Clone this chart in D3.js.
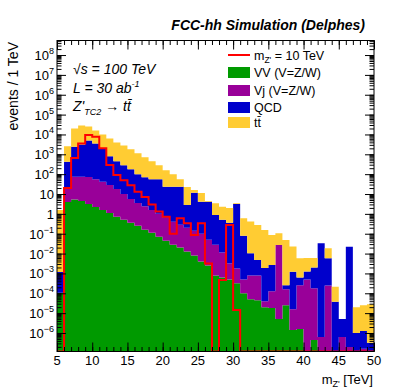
<!DOCTYPE html>
<html>
<head>
<meta charset="utf-8">
<script src="https://cdn.jsdelivr.net/npm/d3@7"></script>
<style>
body { margin: 0; background: #fff; }
text { font-family: "Liberation Sans", Arial, sans-serif; }
</style>
</head>
<body>
<svg id="chart" width="407" height="391"></svg>
<script>
// lower edge of each 1 TeV bin
const binLow = [5,6,7,8,9,10,11,12,13,14,15,16,17,18,19,20,21,22,23,24,25,26,27,28,29,
    30,31,32,33,34,35,36,37,38,39,40,41,42,43,44,45,46,47,48,49]

// backgrounds, events per bin
const vv = [1.05e-4,3.98,5.25,4.47,3.16,2.24,1.58,1.12,0.708,0.501,0.355,0.251,0.158,0.112,0.0708,
    0.0447,0.0282,0.02,0.0126,0.0079,0.004,0.0025,7.9e-4,6.3e-4,5.0e-4,3.16e-4,1.0e-4,5.0e-5,4.5e-5,2.0e-5,
    1.8e-5,5.0e-6,2.5e-5,1.4e-6,1.6e-6,0,4.5e-7,0,0,0,0,0,0,0,0]
const vj = [0,16,69,70,68,54,40,27.7,17.1,9.5,5.27,3.3,2.24,1.47,0.93,
    0.586,0.37,0.262,0.187,0.133,0.096,0.0476,0.0274,0.0106,0.00266,0.00146,4.0e-4,7.4e-4,7.5e-4,2.0e-5,
    1.08e-4,0.0269,1.33e-4,1.44e-5,2.5e-4,5.0e-4,1.77e-4,6.3e-7,2.5e-4,0,6.3e-7,2e-7,0,1.6e-7,0]
const qcd = [1.07e-3,407,2325,3088,4941,3492,1953,765,429,272,172,96.5,68.4,54.6,54,
    22.8,23.0,23.1,2.62,11.6,3.97,4.02,0.843,0.49,0.352,3.16,0.0789,0.0097,0.0040,0.00182,
    0.00256,0,9.3e-5,0.00121,3.8e-4,7.6e-4,0.0018,0.0331,0.0056,3.8e-5,4.4e-6,0.0224,1e-6,1.1e-6,3.2e-7]
const ttbar = [1.58,2085,17550,25020,20110,12300,8005,5516,3534,2536,1600,1022,637,391,227,
    135,76.6,32.8,19.6,4.1,7.1,0.4,2.6,1.79,1.6,0.31,0.52,0.397,0.270,0.153,
    0.0844,0.078,0.0487,0.0212,0.00512,0.0048,0.0040,0,0.0127,1.76e-4,0,0,1.9e-5,2.4e-5,2.8e-5]

// Z'_TC2 signal, m = 10 TeV
const signal = [0,20,646,3548,9333,7762,1995,288,91,50,28,13.2,7.1,3.0,1.3,
    0.71,0.1,0.6,0.34,0.087,0.34,0.0032,0,4.7e-4,0.275,1.45e-5,0,0,0,0,
    0,0,0,0,0,0,0,0,0,0,0,0,0,0,0]

const xTicks = [5,10,15,20,25,30,35,40,45,50]
const yDecades = [-7,-6,-5,-4,-3,-2,-1,0,1,2,3,4,5,6,7,8]
const seriesKeys = ['vv', 'vj', 'qcd', 'ttbar']
const seriesColors = { vv: '#009a00', vj: '#990099', qcd: '#0000cc', ttbar: '#ffcc33' }

const svg = d3.select('#chart')
const frame = { left: 57, right: 374, top: 40.5, bottom: 351.5 }
const yMin = 1.17e-7, yMax = 5.4e8

const x = d3.scaleLinear().domain([5, 50]).range([frame.left, frame.right])
const y = d3.scaleLog().domain([yMin, yMax]).range([frame.bottom, frame.top]).clamp(true)
const yv = v => v > 0 ? y(Math.max(v, yMin)) : frame.bottom

svg.append('clipPath').attr('id', 'clip')
    .append('rect')
    .attr('x', frame.left).attr('y', frame.top)
    .attr('width', frame.right - frame.left).attr('height', frame.bottom - frame.top)

// stacked histogram, one step-shaped area per layer
const table = binLow.map((lo, i) => ({ lo, vv: vv[i], vj: vj[i], qcd: qcd[i], ttbar: ttbar[i] }))
const stacked = d3.stack().keys(seriesKeys)(table)

const stepArea = d3.area()
    .x(d => x(d.lo))
    .y0(d => yv(d.y0))
    .y1(d => yv(d.y1))
    .curve(d3.curveStepAfter)

const plot = svg.append('g').attr('clip-path', 'url(#clip)')
stacked.forEach(layer => {
    const pts = layer.map(d => ({ lo: d.data.lo, y0: d[0], y1: d[1] }))
    const last = pts[pts.length - 1]
    pts.push({ lo: last.lo + 1, y0: last.y0, y1: last.y1 })
    plot.append('path')
        .attr('d', stepArea(pts))
        .attr('fill', seriesColors[layer.key])
})

// signal outline
const sigPts = binLow.map((lo, i) => [lo, signal[i]])
sigPts.push([50, signal[signal.length - 1]])
const sigLine = d3.line()
    .x(d => x(d[0]))
    .y(d => yv(d[1]))
    .curve(d3.curveStepAfter)
plot.append('path')
    .attr('d', sigLine(sigPts))
    .attr('fill', 'none')
    .attr('stroke', '#ff0000')
    .attr('stroke-width', 2)

// axes: ticks point inwards, on all four sides
const xMinor = d3.range(5, 51, 1)
const yMajor = yDecades.map(p => Math.pow(10, p)).filter(v => v >= yMin && v <= yMax)
const yAll = []
yDecades.forEach(p => [1,2,3,4,5,6,7,8,9].forEach(m => {
    const v = m * Math.pow(10, p)
    if (v >= yMin && v <= yMax) yAll.push(v)
}))

function drawTicks(axisFn, scale, values, size, transform) {
    svg.append('g')
        .attr('transform', transform)
        .call(axisFn(scale).tickValues(values).tickSize(size).tickFormat(''))
        .call(g => g.select('.domain').remove())
        .selectAll('line').attr('stroke', '#000').attr('stroke-width', 1)
}
drawTicks(d3.axisBottom, x, xMinor, -4.5, `translate(0,${frame.bottom})`)
drawTicks(d3.axisBottom, x, xTicks, -9, `translate(0,${frame.bottom})`)
drawTicks(d3.axisTop, x, xMinor, -4.5, `translate(0,${frame.top})`)
drawTicks(d3.axisTop, x, xTicks, -9, `translate(0,${frame.top})`)
drawTicks(d3.axisLeft, y, yAll, -4.5, `translate(${frame.left},0)`)
drawTicks(d3.axisLeft, y, yMajor, -9, `translate(${frame.left},0)`)
drawTicks(d3.axisRight, y, yAll, -4.5, `translate(${frame.right},0)`)
drawTicks(d3.axisRight, y, yMajor, -9, `translate(${frame.right},0)`)

svg.append('rect')
    .attr('x', frame.left).attr('y', frame.top)
    .attr('width', frame.right - frame.left).attr('height', frame.bottom - frame.top)
    .attr('fill', 'none').attr('stroke', '#000').attr('stroke-width', 1)

// x tick labels
svg.append('g').selectAll('text')
    .data(xTicks).enter().append('text')
    .attr('x', d => x(d)).attr('y', 365)
    .attr('text-anchor', 'middle')
    .attr('font-size', 13)
    .text(d => d)

// y tick labels 10^n
const yLab = svg.append('g')
yMajor.filter(v => v >= 1e-6 && v <= 1e8).forEach(v => {
    const p = Math.round(Math.log10(v))
    const t = yLab.append('text')
        .attr('x', 54).attr('y', y(v) + 5)
        .attr('text-anchor', 'end')
        .attr('font-size', 13)
    if (p === 0) { t.text('1'); return }
    if (p === 1) { t.text('10'); return }
    t.append('tspan').text('10')
    t.append('tspan').attr('font-size', 9).attr('dy', -6)
        .text(p < 0 ? '\u2212' + (-p) : p)
})

// titles
svg.append('text')
    .attr('x', 365).attr('y', 30)
    .attr('text-anchor', 'end')
    .attr('font-size', 14).attr('font-weight', 'bold').attr('font-style', 'italic')
    .text('FCC-hh Simulation (Delphes)')

svg.append('text')
    .attr('transform', 'translate(18,42) rotate(-90)')
    .attr('text-anchor', 'end')
    .attr('font-size', 14)
    .text('events / 1 TeV')

const xTitle = svg.append('text')
    .attr('x', 373).attr('y', 384)
    .attr('text-anchor', 'end')
    .attr('font-size', 13)
xTitle.append('tspan').text('m')
xTitle.append('tspan').attr('font-size', 9).attr('dy', 3).text("Z'")
xTitle.append('tspan').attr('dy', -3).text(' [TeV]')

// labels inside the frame
const info = svg.append('g').attr('font-size', 14).attr('font-style', 'italic')
info.append('text').attr('x', 73).attr('y', 74).text('\u221As = 100 TeV')
const lumi = info.append('text').attr('x', 73).attr('y', 93)
lumi.append('tspan').text('L = 30 ab')
lumi.append('tspan').attr('font-size', 9).attr('dy', -6).text('-1')
const proc = info.append('text').attr('x', 73).attr('y', 111)
proc.append('tspan').text("Z'")
proc.append('tspan').attr('font-size', 9).attr('dy', 4).text('TC2')
proc.append('tspan').attr('dy', -4).text(' \u2192 tt\u0304')

// legend
const legend = svg.append('g').attr('font-size', 12.5)
legend.append('line')
    .attr('x1', 228).attr('x2', 250).attr('y1', 55).attr('y2', 55)
    .attr('stroke', '#ff0000').attr('stroke-width', 2)
const sigLab = legend.append('text').attr('x', 254).attr('y', 59.5)
sigLab.append('tspan').text('m')
sigLab.append('tspan').attr('font-size', 8.5).attr('dy', 3).text("Z'")
sigLab.append('tspan').attr('dy', -3).text(' = 10 TeV')

const legendItems = [
    { key: 'vv', label: 'VV (V=Z/W)', y: 72.5 },
    { key: 'vj', label: 'Vj (V=Z/W)', y: 90.5 },
    { key: 'qcd', label: 'QCD', y: 107.5 },
    { key: 'ttbar', label: 'tt\u0304', y: 122.5 }
]
legendItems.forEach(it => {
    legend.append('rect')
        .attr('x', 228).attr('y', it.y - 5.5).attr('width', 22).attr('height', 11)
        .attr('fill', seriesColors[it.key])
    legend.append('text').attr('x', 254).attr('y', it.y + 4.5).text(it.label)
})
</script>
</body>
</html>
